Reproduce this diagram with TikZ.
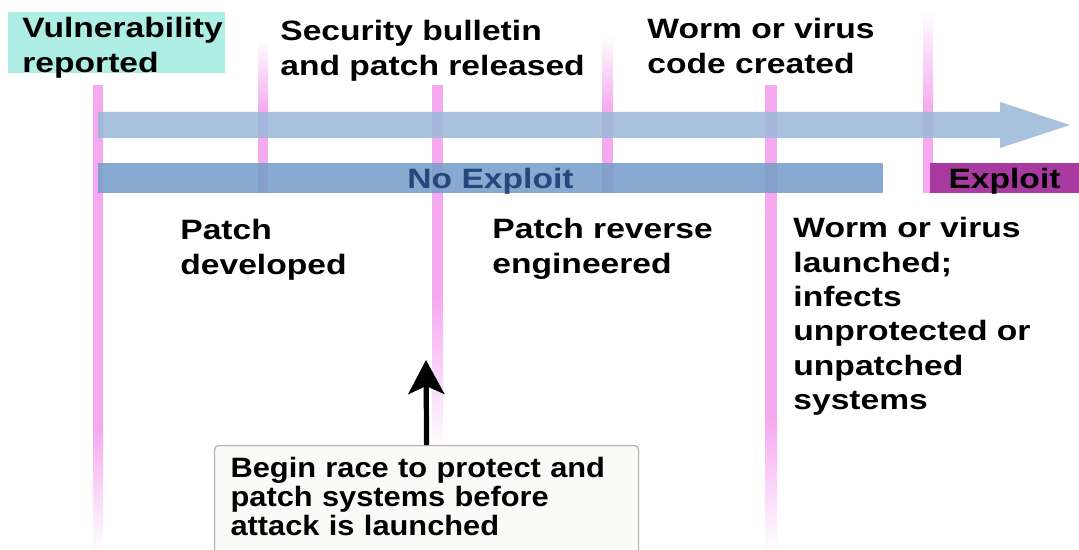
\documentclass[tikz,border=0pt]{standalone}
\usepackage{fontspec}
\setmainfont{Liberation Sans}[FakeStretch=1.2]
\newfontfamily\racefont{Liberation Sans}[FakeStretch=1.1]
\usetikzlibrary{arrows.meta}
\definecolor{rose}{RGB}{245,170,240}
\definecolor{flow}{RGB}{153,183,216}
\definecolor{safe}{RGB}{123,160,203}
\definecolor{safetext}{RGB}{35,72,125}
\definecolor{hit}{RGB}{168,58,160}
\definecolor{report}{RGB}{175,238,228}
\definecolor{boxedge}{RGB}{175,175,175}
\definecolor{boxfill}{RGB}{250,250,248}
\newcommand{\lblfont}{\fontsize{14}{17.2}\selectfont\bfseries}

\begin{document}
\begin{tikzpicture}[x=0.5pt, y=-0.5pt,
      pin/.style={fill=rose},
      pinup/.style={top color=white, bottom color=rose},
      pindown/.style={top color=rose, bottom color=white},
      lbl/.style={font=\lblfont, align=left, inner sep=0pt, anchor=north west},
      bar/.style={font=\lblfont, inner sep=0pt, minimum height=15pt, text depth=0pt},
      racebox/.style={draw=boxedge, fill=boxfill, rounded corners=2pt, line width=0.6pt,
        anchor=north west, inner xsep=8pt, inner ysep=6pt, text width=196pt,
        text depth=48pt, align=left,
        font=\racefont\fontsize{14}{14.5}\selectfont\bfseries},
      racearr/.style={-{Stealth[length=17pt, width=18pt, inset=4pt]}, line width=2.6pt}]
    \useasboundingbox (0,0) rectangle (1079,550);
    % milestones
    \fill[pin] (93,85) rectangle (103,430);
    \shade[pindown] (93,430) rectangle (103,550);
    \shade[pinup] (258,40) rectangle (268,110);
    \fill[pin] (258,110) rectangle (268,193);
    \fill[pin] (432,85) rectangle (443,300);
    \shade[pindown] (432,300) rectangle (443,450);
    \shade[pinup] (602,35) rectangle (613,110);
    \fill[pin] (602,110) rectangle (613,193);
    \fill[pin] (765,85) rectangle (777,420);
    \shade[pindown] (765,420) rectangle (777,550);
    \shade[pinup] (923,10) rectangle (933,110);
    \fill[pin] (923,110) rectangle (933,193);
    % time arrow
    \fill[flow, opacity=0.85] (98,112) -- (1000,112) -- (1000,102) -- (1070,125)
      -- (1000,148) -- (1000,138) -- (98,138) -- cycle;
    \node[bar, fill=safe, fill opacity=0.9, text opacity=1, text=safetext,
      minimum width=392.5pt] (noexp) at (490.5,178) {No Exploit};
    \node[bar, fill=hit, minimum width=74.5pt] (exp) at (1004.5,178) {Exploit};
    \fill[report] (8,12) rectangle (225,73);
    \node[lbl] (vuln) at (22,17) {Vulnerability\\reported};
    \node[lbl] (bulletin) at (280,20) {Security bulletin\\and patch released};
    \node[lbl] (code) at (647,18) {Worm or virus\\code created};
    \node[lbl] (patchdev) at (180,219) {Patch\\developed};
    \node[lbl] (reverse) at (492,218) {Patch reverse\\engineered};
    \node[lbl] (launch) at (793,217)
      {Worm or virus\\launched;\\infects\\unprotected or\\unpatched\\systems};
    \node[racebox] (race) at (214,445)
      {Begin race to protect and\\patch systems before\\attack is launched};
    \coordinate (racetip) at (426,360);
    \draw[racearr] (race.north) -- (racetip);
  \end{tikzpicture}
\end{document}
